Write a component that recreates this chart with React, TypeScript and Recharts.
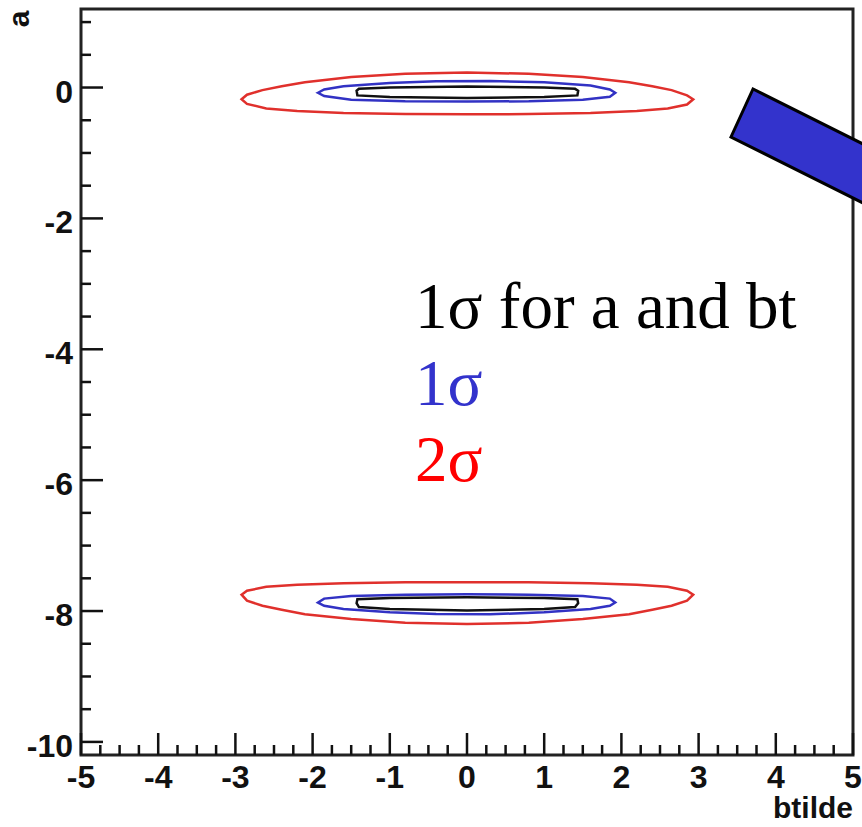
import React from "react";
import { ComposedChart, Line, XAxis, YAxis, ReferenceArea } from "recharts";

// axis labels
const xLabels = [-5, -4, -3, -2, -1, 0, 1, 2, 3, 4, 5];
const yLabels = [-10, -8, -6, -4, -2, 0];
const xSubdiv = 4; // minor ticks every 0.25
const ySubStep = 0.5;

// contours, [btilde, a]
const red2sUpper: [number, number][] = [
  [-2.92, -0.18], [-2.85, -0.11], [-2.65, -0.04], [-2.4, 0.02], [-2.1, 0.08], [-1.5, 0.16], [-0.8, 0.21],
  [0, 0.23], [0.8, 0.21], [1.5, 0.16], [2.1, 0.08], [2.4, 0.02], [2.65, -0.04], [2.85, -0.12],
  [2.93, -0.18], [2.85, -0.26], [2.6, -0.32], [2.2, -0.36], [1.6, -0.39], [0.8, -0.405], [0, -0.41],
  [-0.8, -0.405], [-1.6, -0.39], [-2.2, -0.36], [-2.6, -0.32], [-2.85, -0.25],
];
const blue1sUpper: [number, number][] = [
  [-1.93, -0.08], [-1.85, -0.03], [-1.6, 0.02], [-1.0, 0.07], [-0.4, 0.095], [0.3, 0.1],
  [1.0, 0.08], [1.6, 0.03], [1.85, -0.03], [1.92, -0.08], [1.85, -0.14], [1.5, -0.185],
  [0.8, -0.21], [0, -0.215], [-0.8, -0.21], [-1.5, -0.185], [-1.85, -0.13],
];
const black1sUpper: [number, number][] = [
  [-1.43, -0.05], [-1.4, -0.02], [-1.0, 0.0], [0, 0.015], [1.0, 0.0], [1.4, -0.02],
  [1.44, -0.05], [1.43, -0.12], [1.0, -0.145], [0, -0.16], [-1.0, -0.145], [-1.42, -0.12],
];
const red2sLower: [number, number][] = [
  [-2.92, -7.75], [-2.85, -7.69], [-2.6, -7.63], [-2.2, -7.6], [-1.6, -7.575], [-0.8, -7.562], [0, -7.56],
  [0.8, -7.562], [1.6, -7.575], [2.2, -7.6], [2.6, -7.63], [2.85, -7.69], [2.93, -7.75], [2.85, -7.84],
  [2.65, -7.92], [2.4, -7.98], [2.1, -8.05], [1.5, -8.12], [0.8, -8.18], [0, -8.2], [-0.8, -8.18],
  [-1.5, -8.12], [-2.1, -8.05], [-2.4, -7.98], [-2.65, -7.92], [-2.85, -7.84],
];
const blue1sLower: [number, number][] = [
  [-1.93, -7.87], [-1.85, -7.81], [-1.5, -7.77], [-0.8, -7.75], [0, -7.745], [0.8, -7.75],
  [1.5, -7.77], [1.85, -7.81], [1.92, -7.87], [1.85, -7.92], [1.6, -7.97], [1.0, -8.02],
  [0.3, -8.05], [-0.4, -8.045], [-1.0, -8.02], [-1.6, -7.97], [-1.85, -7.92],
];
const black1sLower: [number, number][] = [
  [-1.43, -7.88], [-1.42, -7.82], [-1.0, -7.8], [0, -7.79], [1.0, -7.8], [1.43, -7.82],
  [1.44, -7.88], [1.4, -7.94], [1.0, -7.97], [0, -7.99], [-1.0, -7.97], [-1.4, -7.94],
];

const toPts = (arr: [number, number][]) => arr.map(([x, y]) => ({ x, y }));

const xTicks: number[] = [];
for (let i = 0; i < xLabels.length - 1; i++) {
  for (let k = 0; k < xSubdiv; k++) xTicks.push(xLabels[i] + k / xSubdiv);
}
xTicks.push(xLabels[xLabels.length - 1]);
const yTicks: number[] = [];
for (let v = -10; v <= 1.001; v += ySubStep) yTicks.push(Math.round(v * 10) / 10);

const FONT = "'Liberation Sans', Arial, sans-serif";

const XTick = (props: any) => {
  const { x, y, payload } = props;
  const major = xLabels.includes(payload.value);
  return (
    <g>
      <line x1={x} x2={x} y1={y} y2={y - (major ? 22 : 10)} stroke="#111" strokeWidth={2.5} />
      {major && (
        <text x={x} y={y + 33} textAnchor="middle" fontFamily={FONT} fontWeight="bold" fontSize={32} fill="#111">
          {payload.value}
        </text>
      )}
    </g>
  );
};

const YTick = (props: any) => {
  const { x, y, payload } = props;
  const major = yLabels.includes(payload.value);
  return (
    <g>
      <line x1={x} x2={x + (major ? 22 : 10)} y1={y} y2={y} stroke="#111" strokeWidth={2.5} />
      {major && (
        <text x={x - 8} y={y + 15} textAnchor="end" fontFamily={FONT} fontWeight="bold" fontSize={32} fill="#111">
          {payload.value}
        </text>
      )}
    </g>
  );
};

const contour = (key: string, pts: [number, number][], color: string) => (
  <Line
    key={key}
    data={toPts(pts)}
    dataKey="y"
    type="linearClosed"
    stroke={color}
    strokeWidth={2.5}
    dot={false}
    activeDot={false}
    isAnimationActive={false}
  />
);

export default function App() {
  return (
    <div style={{ position: "absolute", left: 0, top: 0, width: 862, height: 827, background: "#fff", overflow: "hidden" }}>
      <ComposedChart width={862} height={827} margin={{ top: 9, right: 9, bottom: 0, left: 0 }}>
        <XAxis
          type="number"
          dataKey="x"
          domain={[-5, 5]}
          ticks={xTicks}
          interval={0}
          allowDataOverflow
          height={72}
          tickSize={0}
          tickMargin={0}
          axisLine={false}
          tickLine={false}
          tick={<XTick />}
        />
        <YAxis
          type="number"
          dataKey="y"
          domain={[-10.2, 1.2]}
          ticks={yTicks}
          interval={0}
          allowDataOverflow
          width={81}
          tickSize={0}
          tickMargin={0}
          axisLine={false}
          tickLine={false}
          tick={<YTick />}
        />
        <ReferenceArea x1={-5} x2={5} y1={-10.2} y2={1.2} fill="none" stroke="#222" strokeWidth={3} ifOverflow="visible" />
        {contour("r1", red2sUpper, "#e0302c")}
        {contour("b1", blue1sUpper, "#3232c4")}
        {contour("k1", black1sUpper, "#111")}
        {contour("r2", red2sLower, "#e0302c")}
        {contour("b2", blue1sLower, "#3232c4")}
        {contour("k2", black1sLower, "#111")}
      </ComposedChart>
      <svg width={862} height={827} style={{ position: "absolute", left: 0, top: 0, pointerEvents: "none" }}>
        <text x={0} y={0} transform="translate(29,19) rotate(-90)" textAnchor="middle" fontFamily={FONT} fontWeight="bold" fontSize={30} fill="#111">
          a
        </text>
        <text x={853} y={818} textAnchor="end" fontFamily={FONT} fontWeight="bold" fontSize={30} fill="#111">
          btilde
        </text>
        <polygon points="753,89 731,137 971,257 993,209" fill="#3333cc" stroke="#000" strokeWidth={3} />
        <g fontFamily="'Liberation Serif', 'Times New Roman', serif" fontSize={65}>
          <text x={415} y={328} fill="#000">1σ for a and bt</text>
          <text x={415} y={405} fill="#3333cc">1σ</text>
          <text x={415} y={481} fill="#ff0000">2σ</text>
        </g>
      </svg>
    </div>
  );
}
